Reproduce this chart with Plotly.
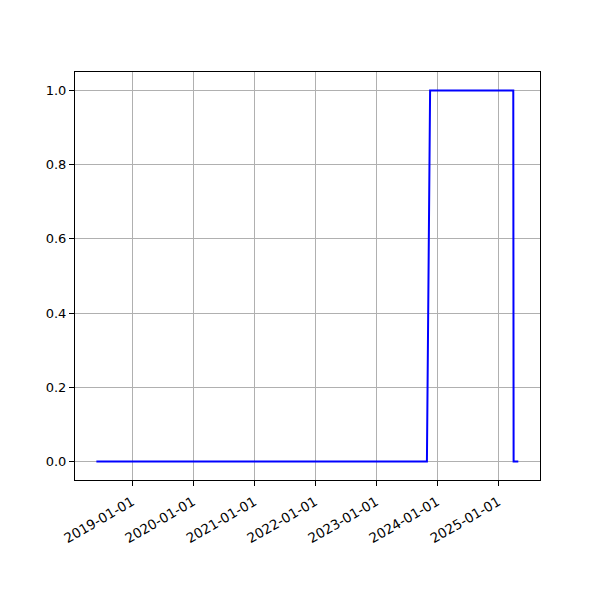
import plotly.graph_objects as go

dates = ["2018-06-01", "2023-11-01", "2023-11-20", "2025-04-01", "2025-04-03", "2025-05-01"]
values = [0, 0, 1, 1, 0, 0]

tick_dates = ["2019-01-01", "2020-01-01", "2021-01-01", "2022-01-01",
              "2023-01-01", "2024-01-01", "2025-01-01"]

fig = go.Figure()
fig.add_trace(go.Scatter(x=dates, y=values, mode="lines",
                         line=dict(color="blue", width=2)))

fig.update_layout(
    width=600, height=600,
    margin=dict(l=67, r=68, t=64, b=128),
    plot_bgcolor="white", paper_bgcolor="white",
    showlegend=False,
    font=dict(family="DejaVu Sans", size=13, color="black"),
)
fig.update_xaxes(
    type="date",
    range=["2018-01-24", "2025-09-08"],
    tickvals=tick_dates, ticktext=tick_dates,
    tickangle=-30,
    tickfont=dict(size=13.5),
    ticklabelstandoff=3,
    showgrid=True, gridcolor="#b0b0b0", gridwidth=1,
    showline=True, linecolor="black", linewidth=1, mirror=True,
    ticks="outside", ticklen=5, tickcolor="black",
    zeroline=False,
)
fig.update_yaxes(
    range=[-0.05, 1.05],
    tickvals=[0, 0.2, 0.4, 0.6, 0.8, 1.0],
    tickformat=".1f",
    showgrid=True, gridcolor="#b0b0b0", gridwidth=1,
    showline=True, linecolor="black", linewidth=1, mirror=True,
    ticks="outside", ticklen=5, tickcolor="black",
    zeroline=False,
)

fig.write_html("out.html")
